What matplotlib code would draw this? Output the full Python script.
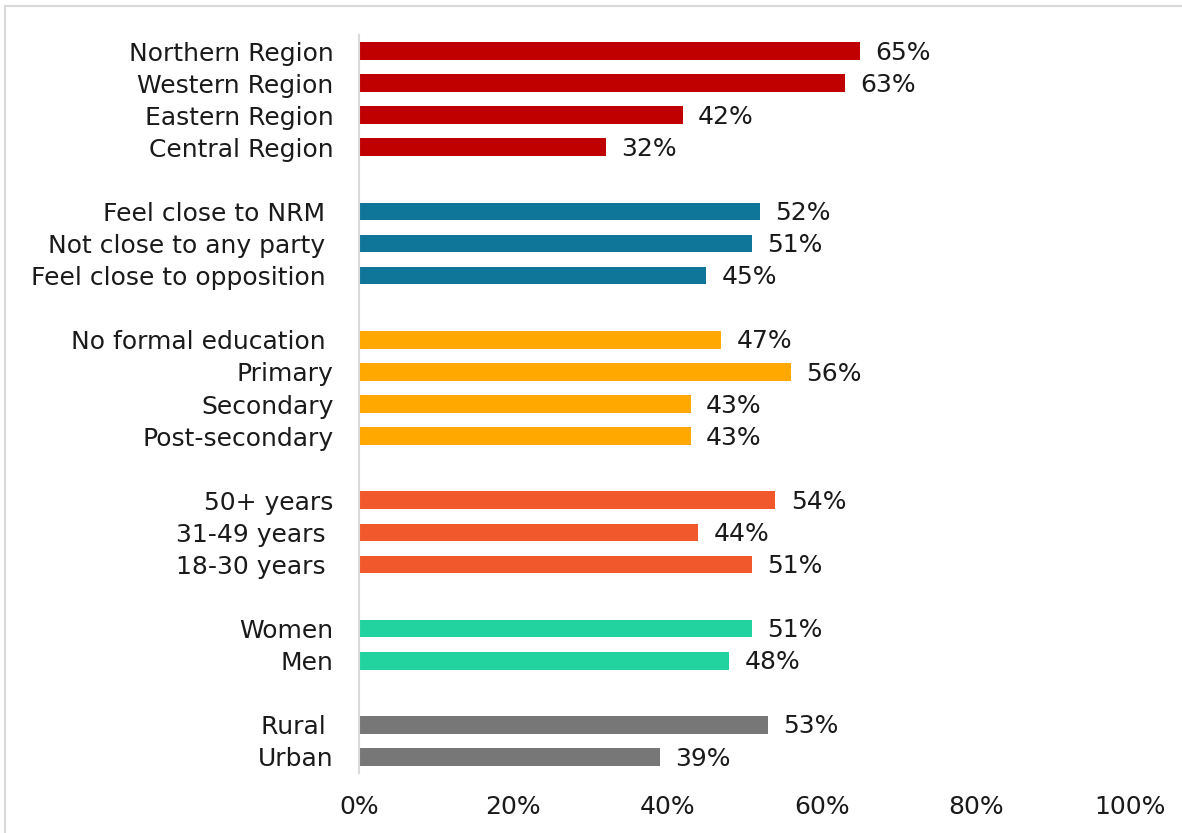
import matplotlib
matplotlib.use("Agg")

import matplotlib.pyplot as plt
from matplotlib.lines import Line2D

plt.rcParams["font.family"] = ["DejaVu Sans"]

# groups, top to bottom; trailing spaces are kept as in the source chart
regions = ["Northern Region", "Western Region", "Eastern Region", "Central Region"]
region_vals = [65, 63, 42, 32]

party = ["Feel close to NRM ", "Not close to any party ", "Feel close to opposition "]
party_vals = [52, 51, 45]

education = ["No formal education ", "Primary", "Secondary", "Post-secondary"]
education_vals = [47, 56, 43, 43]

age = ["50+ years", "31-49 years ", "18-30 years "]
age_vals = [54, 44, 51]

gender = ["Women", "Men"]
gender_vals = [51, 48]

location = ["Rural ", "Urban"]
location_vals = [53, 39]

groups = [
    (regions, region_vals, "#C00000"),
    (party, party_vals, "#107699"),
    (education, education_vals, "#FFA800"),
    (age, age_vals, "#F1582C"),
    (gender, gender_vals, "#22D3A0"),
    (location, location_vals, "#777777"),
]

xticks = [0, 20, 40, 60, 80, 100]
FS = 18

fig = plt.figure(figsize=(11.82, 8.33), dpi=100)
ax = fig.add_axes([0.3037, 0.072, 0.9560 - 0.3037, 0.958 - 0.072])

positions, labels = [], []
pos = 0
for names, vals, color in groups:
    ys = list(range(pos, pos + len(names)))
    ax.barh(ys, vals, height=0.55, color=color, zorder=2)
    for y, v in zip(ys, vals):
        ax.text(v + 2.0, y + 0.05, f"{v}%", va="center", ha="left",
                fontsize=FS, color="#1a1a1a")
    positions += ys
    labels += names
    pos += len(names) + 1

ax.set_ylim(pos - 1.5, -0.5)
ax.set_xlim(0, 100)
ax.set_yticks(positions)
ax.set_yticklabels(labels, fontsize=FS, color="#1a1a1a")
ax.set_xticks(xticks)
ax.set_xticklabels([f"{t}%" for t in xticks], fontsize=FS, color="#1a1a1a")
ax.tick_params(axis="y", length=0, pad=18.5)
ax.tick_params(axis="x", length=0, pad=16)

for side in ["top", "right", "bottom"]:
    ax.spines[side].set_visible(False)
ax.spines["left"].set_color("#D9D9D9")
ax.spines["left"].set_linewidth(1.5)

# light frame at top and left edge of the picture
fig.add_artist(Line2D([0.004, 1.0], [0.9925, 0.9925], color="#D9D9D9", lw=1.5,
                      transform=fig.transFigure))
fig.add_artist(Line2D([0.0045, 0.0045], [0.0, 0.9925], color="#D9D9D9", lw=1.5,
                      transform=fig.transFigure))

fig.savefig("out.png", dpi=100, facecolor="white")
